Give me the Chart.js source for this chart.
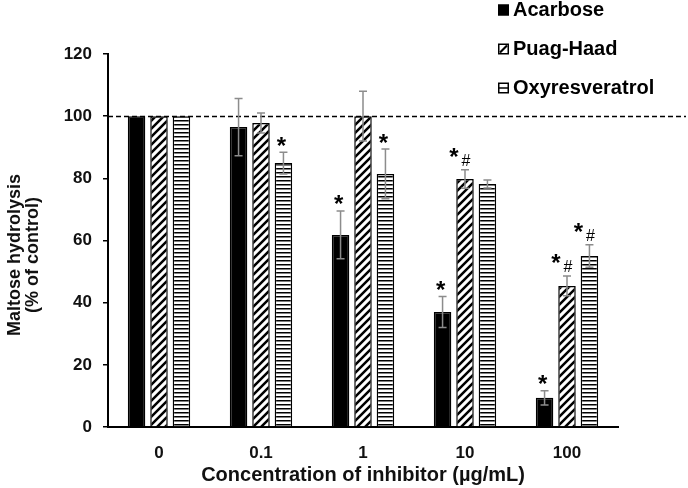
<!DOCTYPE html>
<html><head><meta charset="utf-8">
<style>html,body{margin:0;padding:0;background:#fff}#wrap{width:688px;height:488px;position:relative}</style>
<script src="https://cdn.jsdelivr.net/npm/chart.js@4"></script>
</head><body><div id="wrap"><canvas id="c" width="688" height="488"></canvas></div>
<script>
const categories = ['0', '0.1', '1', '10', '100'];
const seriesNames = ['Acarbose', 'Puag-Haad', 'Oxyresveratrol'];
const acarbose = [100, 96.5, 61.8, 37.0, 9.4];
const acarboseErr = [0, 9.2, 7.7, 5.0, 2.3];
const puagHaad = [100, 97.8, 100, 79.8, 45.4];
const puagHaadErr = [0, 3.2, 8.0, 3.0, 3.2];
const oxyres = [100, 84.9, 81.4, 78.2, 55.0];
const oxyresErr = [0, 3.5, 8.0, 1.3, 3.6];
const sigAcarbose = ['', '', '*', '*', '*'];
const sigPuagHaad = ['', '', '', '*#', '*#'];
const sigOxyres = ['', '*', '*', '', '*#'];
const yTicks = [0, 20, 40, 60, 80, 100, 120];
const refLine = 100;
const yTitleLines = ['Maltose hydrolysis', '(% of control)'];
const xTitle = 'Concentration of inhibitor (µg/mL)';

const FONT = "'Liberation Sans', Arial, sans-serif";

function diagPattern() {
  const t = document.createElement('canvas'); t.width = 8; t.height = 8;
  const g = t.getContext('2d');
  g.fillStyle = '#fff'; g.fillRect(0, 0, 8, 8);
  g.strokeStyle = '#000'; g.lineWidth = 2.5; g.lineCap = 'square';
  g.beginPath();
  g.moveTo(-2, 10); g.lineTo(10, -2);
  g.moveTo(-6, 6); g.lineTo(6, -6);
  g.moveTo(2, 14); g.lineTo(14, 2);
  g.stroke();
  return g.createPattern(t, 'repeat');
}
function horizPattern() {
  const t = document.createElement('canvas'); t.width = 4; t.height = 4;
  const g = t.getContext('2d');
  g.fillStyle = '#fff'; g.fillRect(0, 0, 4, 4);
  g.fillStyle = '#000'; g.fillRect(0, 0, 4, 1.5);
  return g.createPattern(t, 'repeat');
}

const errs = [acarboseErr, puagHaadErr, oxyresErr];
const sigs = [sigAcarbose, sigPuagHaad, sigOxyres];

const overlay = {
  id: 'overlay',
  afterDatasetsDraw(chart) {
    const ctx = chart.ctx, y = chart.scales.y, area = chart.chartArea;
    ctx.save();
    ctx.strokeStyle = '#000'; ctx.lineWidth = 1.5; ctx.setLineDash([5, 3]);
    const yr = Math.round(y.getPixelForValue(refLine)) + 0.5;
    ctx.beginPath(); ctx.moveTo(area.left, yr); ctx.lineTo(686, yr); ctx.stroke();
    ctx.restore();
    chart.data.datasets.forEach((ds, di) => {
      const meta = chart.getDatasetMeta(di);
      meta.data.forEach((el, i) => {
        const v = ds.data[i], e = errs[di][i];
        const x = el.x;
        const yt = y.getPixelForValue(v + e), yb = y.getPixelForValue(v - e);
        if (e > 0) {
          ctx.save();
          ctx.strokeStyle = '#8c8c8c'; ctx.lineWidth = 1.5;
          ctx.beginPath();
          ctx.moveTo(x, yt); ctx.lineTo(x, yb);
          ctx.moveTo(x - 4, yt); ctx.lineTo(x + 4, yt);
          ctx.moveTo(x - 4, yb); ctx.lineTo(x + 4, yb);
          ctx.stroke();
          ctx.restore();
        }
        const s = sigs[di][i];
        if (s) {
          ctx.save();
          ctx.fillStyle = '#000'; ctx.textAlign = 'center'; ctx.textBaseline = 'alphabetic';
          ctx.font = 'bold 24px ' + FONT;
          const m = ctx.measureText('*');
          const off = (m.actualBoundingBoxAscent - m.actualBoundingBoxDescent) / 2;
          if (s === '*') {
            ctx.fillText('*', x - 2, yt - 11 + off);
          } else {
            ctx.fillText('*', x - 11, yt - 17 + off);
            ctx.font = '16px ' + FONT;
            const m2 = ctx.measureText('#');
            const off2 = (m2.actualBoundingBoxAscent - m2.actualBoundingBoxDescent) / 2;
            ctx.fillText('#', x + 1, yt - 10 + off2);
          }
          ctx.restore();
        }
      });
    });
  },
  afterDraw(chart) {
    const ctx = chart.ctx;
    // y-axis title
    ctx.save();
    ctx.translate(0, 255);
    ctx.rotate(-Math.PI / 2);
    ctx.fillStyle = '#111'; ctx.font = 'bold 18px ' + FONT;
    ctx.textAlign = 'center'; ctx.textBaseline = 'middle';
    ctx.fillText(yTitleLines[0], 0, 15);
    ctx.fillText(yTitleLines[1], 0, 33);
    ctx.restore();
    // legend
    const rows = [10, 49, 88];
    chart.data.datasets.forEach((ds, di) => {
      const cy = rows[di], sx = 498, sz = 11, sy = cy - 5.5;
      ctx.save();
      ctx.fillStyle = di === 0 ? '#000' : '#fff';
      ctx.fillRect(sx, sy, sz, sz);
      ctx.strokeStyle = '#000'; ctx.lineWidth = 1.5;
      if (di === 1) {
        ctx.beginPath(); ctx.moveTo(sx + 2, sy + sz - 2); ctx.lineTo(sx + sz - 2, sy + 2); ctx.lineWidth = 2.2; ctx.stroke();
        ctx.lineWidth = 1.5;
      } else if (di === 2) {
        ctx.beginPath(); ctx.moveTo(sx, sy + sz / 2); ctx.lineTo(sx + sz, sy + sz / 2); ctx.stroke();
      }
      ctx.strokeRect(sx + 0.75, sy + 0.75, sz - 1.5, sz - 1.5);
      ctx.fillStyle = '#000'; ctx.font = 'bold 20px ' + FONT;
      ctx.textAlign = 'left'; ctx.textBaseline = 'middle';
      ctx.fillText(ds.label, 513, cy);
      ctx.restore();
    });
  }
};

const tickFont = { family: FONT, weight: 'bold', size: 17 };

new Chart(document.getElementById('c'), {
  type: 'bar',
  data: {
    labels: categories,
    datasets: [
      { label: seriesNames[0], data: acarbose, backgroundColor: '#000', borderColor: '#000', borderWidth: 1.5 },
      { label: seriesNames[1], data: puagHaad, backgroundColor: diagPattern(), borderColor: '#000', borderWidth: 1.5 },
      { label: seriesNames[2], data: oxyres, backgroundColor: horizPattern(), borderColor: '#000', borderWidth: 1.5 }
    ]
  },
  options: {
    responsive: false,
    animation: false,
    devicePixelRatio: 1,
    categoryPercentage: 0.66,
    barPercentage: 0.78,
    layout: { padding: { top: 54, right: 70, bottom: 0, left: 0 } },
    plugins: { legend: { display: false }, tooltip: { enabled: false } },
    scales: {
      x: {
        grid: { display: false, drawTicks: false },
        border: { display: true, color: '#000', width: 2 },
        ticks: { color: '#111', font: tickFont, padding: 16 },
        title: { display: true, text: xTitle, color: '#111',
                 font: { family: FONT, weight: 'bold', size: 20, lineHeight: 1.2 }, padding: { top: 0, bottom: 1 } },
        afterFit(s) { s.height = 61; }
      },
      y: {
        min: 0, max: 120,
        afterBuildTicks(s) { s.ticks = yTicks.map(v => ({ value: v })); },
        grid: { drawOnChartArea: false, drawTicks: true, tickLength: 5, color: '#000', lineWidth: 1.5 },
        border: { display: true, color: '#000', width: 2 },
        ticks: { color: '#111', font: tickFont, padding: 11 },
        afterFit(s) { s.width = 108; }
      }
    }
  },
  plugins: [overlay]
});
</script>
</body></html>
